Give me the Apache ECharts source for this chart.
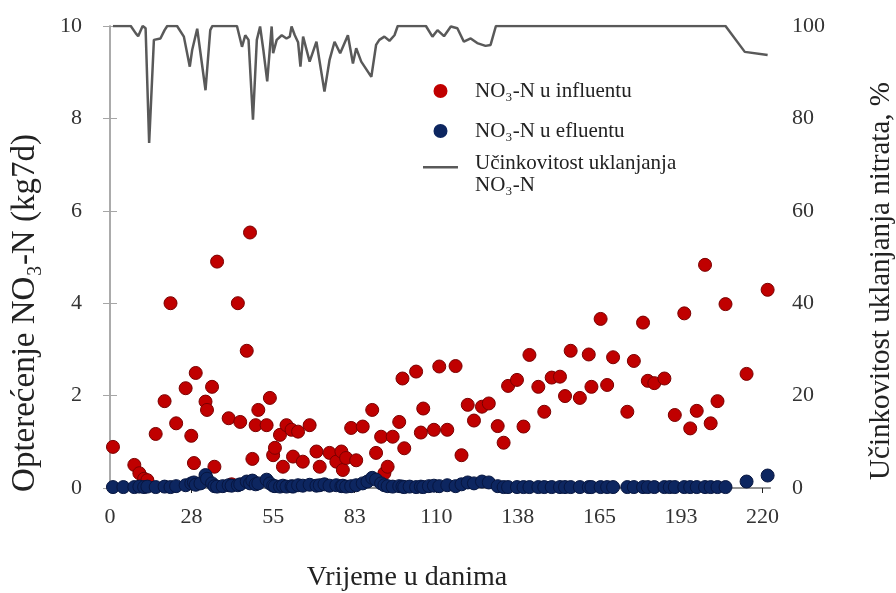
<!DOCTYPE html>
<html><head><meta charset="utf-8">
<script src="https://cdn.jsdelivr.net/npm/echarts@6/dist/echarts.min.js"></script>
<style>html,body{margin:0;padding:0;background:#fff}#c{width:896px;height:593px}</style>
</head><body><div id="c"></div>
<script>
// Day, load (kg/d) for influent nitrate
const influent = [
 [1,0.89],[8.2,0.5],[9.9,0.32],[11.5,0.2],[12.6,0.17],[15.4,1.17],[18.4,1.88],[20.4,4.0],[22.3,1.4],
 [25.5,2.16],[27.4,1.13],[28.3,0.54],[28.9,2.49],[32.2,1.87],[32.7,1.69],[34.4,2.19],[35.2,0.46],[36.1,4.9],
 [40,1.51],[41,0.08],[43.1,4.0],[43.9,1.43],[46.1,2.97],[47.2,5.53],[48,0.63],[49.1,1.36],[50,1.69],
 [52.8,1.36],[53.9,1.95],[55,0.71],[55.6,0.87],[57.3,1.15],[58.3,0.46],[59.5,1.36],[61.2,1.26],[61.7,0.68],
 [63.4,1.22],[65,0.57],[67.3,1.36],[69.6,0.79],[70.7,0.46],[74,0.76],[76.3,0.57],[78,0.79],[78.5,0.39],
 [79.6,0.65],[81.3,1.3],[83,0.6],[85.2,1.33],[88.4,1.69],[89.7,0.76],[91.4,1.11],[92.5,0.32],[93.6,0.46],
 [95.3,1.11],[97.5,1.43],[98.6,2.37],[99.2,0.86],[103.2,2.52],[104.8,1.2],[105.6,1.72],[109.2,1.26],[111,2.63],
 [113.7,1.26],[116.5,2.64],[118.5,0.71],[120.6,1.8],[122.7,1.46],[125.4,1.76],[127.7,1.83],[130.7,1.34],
 [132.7,0.98],[134.2,2.21],[137.2,2.34],[139.4,1.33],[141.4,2.88],[144.4,2.19],[146.4,1.65],[148.9,2.39],
 [151.7,2.41],[153.4,1.99],[155.3,2.97],[158.4,1.95],[161.4,2.89],[162.3,2.19],[165.4,3.66],[167.6,2.23],
 [169.6,2.83],[174.4,1.65],[176.6,2.75],[179.7,3.58],[181.3,2.32],[183.5,2.27],[186.9,2.37],[190.4,1.58],
 [193.6,3.78],[195.6,1.29],[197.8,1.67],[200.6,4.83],[202.5,1.4],[204.8,1.88],[207.5,3.98],[214.6,2.47],[221.7,4.29]
];
// Day, load (kg/d) for effluent nitrate
const effluent = [
 [1,0.02],[4.5,0.02],[8.2,0.02],[9.9,0.03],[11.5,0.02],[12.6,0.03],[15.4,0.02],[18.4,0.03],[20.4,0.02],[22.3,0.04],
 [25.5,0.06],[27.4,0.1],[28.3,0.12],[28.9,0.07],[30.5,0.1],[32.2,0.28],[32.7,0.2],[34.4,0.1],[35.2,0.04],[36.1,0.03],
 [38,0.04],[40,0.06],[41,0.05],[43.1,0.06],[43.9,0.08],[46.1,0.14],[47.2,0.1],[48,0.16],[49.1,0.08],[50,0.1],
 [52.8,0.18],[53.9,0.1],[55,0.05],[55.6,0.04],[57.3,0.03],[58.3,0.05],[59.5,0.03],[61.2,0.04],[61.7,0.03],[63.4,0.06],
 [65,0.05],[67.3,0.07],[69.6,0.05],[70.7,0.06],[72.3,0.08],[74,0.05],[76.3,0.06],[78,0.04],[78.5,0.05],[79.6,0.03],
 [81.3,0.04],[83,0.06],[85.2,0.1],[86.8,0.14],[88.4,0.22],[89.7,0.18],[91.4,0.1],[92.5,0.06],[93.6,0.04],[95.3,0.03],
 [97.5,0.04],[98.6,0.03],[99.2,0.02],[101,0.03],[103.2,0.02],[104.8,0.03],[105.6,0.02],[107.5,0.04],[109.2,0.05],[111,0.04],
 [113.7,0.06],[116.5,0.04],[118.5,0.08],[120.6,0.12],[122.7,0.1],[125.4,0.14],[127.7,0.12],[130.7,0.04],[132.7,0.02],
 [134.2,0.02],[137.2,0.02],[139.4,0.02],[141.4,0.02],[144.4,0.02],[146.4,0.02],[148.9,0.02],[151.7,0.02],[153.4,0.02],
 [155.3,0.02],[158.4,0.02],[161.4,0.02],[162.3,0.02],[165.4,0.02],[167.6,0.02],[169.6,0.02],[174.4,0.02],[176.6,0.02],
 [179.7,0.02],[181.3,0.02],[183.5,0.02],[186.9,0.02],[188.7,0.02],[190.4,0.02],[193.6,0.02],[195.6,0.02],[197.8,0.02],
 [200.6,0.02],[202.5,0.02],[204.8,0.02],[207.5,0.02],[214.6,0.14],[221.7,0.27]
];
// Day, removal efficiency (%)
const efficiency = [
 [1,100],[7,100],[8.7,98.4],[9.5,97.8],[11,100],[12,99.5],[13.2,74.7],[14.8,97],[17,97.3],[18.4,99.1],[19.3,100],
 [22.6,100],[24.9,97.7],[26.9,91.2],[27.7,94.8],[29.4,99.4],[32.2,86.1],[33.8,99.1],[34.5,100],[42.8,100],[44.5,95.5],
 [45.6,98],[46.7,97],[48.2,79.7],[49.5,97],[50.6,99.9],[51.7,94.8],[53,88],[54.5,99.9],[55,94.1],[56.2,97],[57.9,98],
 [59.5,97.3],[60.6,97.7],[61.2,99.9],[62.3,98],[63.4,96.5],[64.2,91.2],[65.1,97.7],[67.3,92.3],[69.6,96.6],[72.3,85.8],
 [74,92.6],[75.7,96.6],[77.6,94.1],[80.2,98],[81.9,91.9],[83,95.2],[84.7,92.3],[88.1,89],[89.7,95.9],[90.8,97],
 [92.5,97.7],[94.2,96.8],[95.9,98],[97,100],[106.5,100],[108.7,97.7],[110.4,99.1],[112.6,97.8],[114.9,99.9],[117.1,99.5],
 [119.3,96.6],[121.6,97.3],[123.8,96.3],[126.6,95.7],[128.3,95.9],[130.1,100],[207.5,100],[214,94.4],[221.7,93.7]
];
const xTicks = [0,27.5,55,82.5,110,137.5,165,192.5,220];
const names = ['NO\u2083-N u influentu','NO\u2083-N u efluentu','U\u010dinkovitost uklanjanja\nNO\u2083-N'];
const FONT = '"Liberation Serif","Times New Roman",serif';

// legend icons: full-width bounding box so the shape sits where intended
const dotIcon = 'path://M0,0 L0.01,0 L0,0.01 Z M35,14 L34.99,14 L35,13.99 Z M10.5,7 A7,7 0 1,1 24.5,7 A7,7 0 1,1 10.5,7 Z';
const lineIcon = 'path://M0,0 L35,0 L35,2.5 L0,2.5 Z M0,16 L0.01,16 L0.01,16.01 L0,16.01 Z';

const chart = echarts.init(document.getElementById('c'), null, {renderer:'canvas'});
const axisGray = '#a6a6a6';
const legendText = {fontFamily:FONT, fontSize:21, color:'#222', lineHeight:22, padding:[0,0,0,12]};
chart.setOption({
  animation:false,
  backgroundColor:'#fff',
  grid:{left:110, right:126, top:26, bottom:105},
  xAxis:[{
    type:'value', min:0, max:222.5, position:'bottom',
    axisLine:{show:true, lineStyle:{color:'#222', width:1.5}},
    axisTick:{show:true, length:5, customValues:xTicks, lineStyle:{color:'#222'}},
    axisLabel:{customValues:xTicks, formatter:v=>String(Math.round(v)), fontFamily:FONT, fontSize:22, color:'#333', margin:18},
    splitLine:{show:false}
  },{
    type:'value', min:0, max:222.5, position:'top',
    axisLine:{show:true, lineStyle:{color:axisGray, width:1.5}},
    axisTick:{show:false}, axisLabel:{show:false}, splitLine:{show:false}
  }],
  yAxis:[{
    type:'value', min:0, max:10, interval:2, position:'left',
    axisLine:{show:true, lineStyle:{color:axisGray, width:1.5}},
    axisTick:{show:true, length:7, lineStyle:{color:axisGray}},
    axisLabel:{fontFamily:FONT, fontSize:22, color:'#333', margin:28},
    splitLine:{show:false}
  },{
    type:'value', min:0, max:100, interval:20, position:'right',
    axisLine:{show:true, lineStyle:{color:axisGray, width:1.5}},
    axisTick:{show:true, length:7, lineStyle:{color:axisGray}},
    axisLabel:{fontFamily:FONT, fontSize:22, color:'#333', margin:22},
    splitLine:{show:false}
  }],
  legend:[{
    data:[{name:names[0], icon:dotIcon},{name:names[1], icon:dotIcon}],
    orient:'vertical', left:423, top:80, padding:0,
    itemWidth:35, itemHeight:14, itemGap:18,
    itemStyle:{borderWidth:0},
    textStyle:legendText
  },{
    data:[{name:names[2], icon:lineIcon}],
    orient:'vertical', left:423, top:152, padding:0,
    itemWidth:35, itemHeight:16,
    itemStyle:{borderWidth:0},
    textStyle:legendText
  }],
  graphic:[
    {type:'text', x:25, y:313, rotation:Math.PI/2, style:{text:'Optere\u0107enje NO\u2083-N (kg7d)', font:'33px '+FONT, fill:'#222', align:'center', verticalAlign:'middle'}},
    {type:'text', x:881, y:281, rotation:Math.PI/2, style:{text:'U\u010dinkovitost uklanjanja nitrata, %', font:'29px '+FONT, fill:'#222', align:'center', verticalAlign:'middle'}},
    {type:'text', x:407, y:578, style:{text:'Vrijeme u danima', font:'28px '+FONT, fill:'#222', align:'center', verticalAlign:'middle'}}
  ],
  series:[{
    name:names[0], type:'scatter', data:influent, symbol:'circle', symbolSize:13, z:2,
    itemStyle:{color:'#C00000', borderColor:'#7a0000', borderWidth:1, opacity:1}
  },{
    name:names[1], type:'scatter', data:effluent, symbol:'circle', symbolSize:13, z:3,
    itemStyle:{color:'#0d2660', borderColor:'#071640', borderWidth:1, opacity:1}
  },{
    name:names[2], type:'line', yAxisIndex:1, data:efficiency, symbol:'none', z:4,
    lineStyle:{color:'#595959', width:2.5}, itemStyle:{color:'#595959'}
  }]
});
</script></body></html>
